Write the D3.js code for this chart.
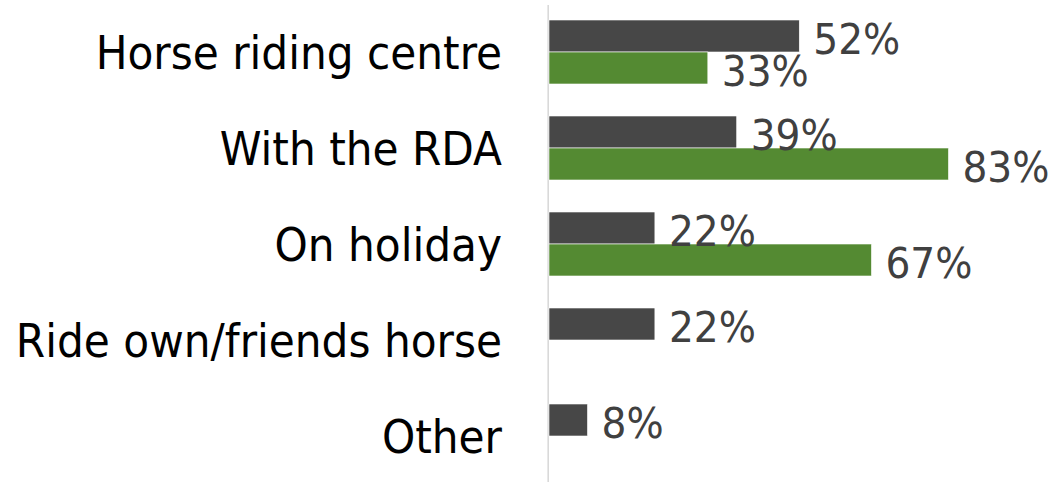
<!DOCTYPE html>
<html>
<head>
<meta charset="utf-8">
<script src="https://cdn.jsdelivr.net/npm/d3@7"></script>
<style>
  html, body { margin: 0; padding: 0; background: #fff; }
  svg { display: block; }
</style>
</head>
<body>
<svg width="1056" height="482"></svg>
<script>
// Data
const categories = ["Horse riding centre", "With the RDA", "On holiday", "Ride own/friends horse", "Other"];
const seriesNames = ["Series 1", "Series 2"];
const series1 = [52, 39, 22, 22, 8];
const series2 = [33, 83, 67, null, null];
const colors = ["#474747", "#548a32"];

const svg = d3.select("svg");
const width = +svg.attr("width");
const height = +svg.attr("height");

const fontFamily = "'DejaVu Sans Condensed', 'DejaVu Sans', sans-serif";

// Scales
const xScale = d3.scaleLinear()
                 .domain([0, 100])
                 .range([549, 549 + 481.3]);

const yScale = d3.scaleBand()
                 .domain(categories)
                 .range([4, 484])
                 .paddingInner(1 / 3)
                 .paddingOuter(1 / 6);

const ySub = d3.scaleBand()
               .domain(seriesNames)
               .range([0, yScale.bandwidth()]);

// Rows of data
const rows = categories.map((c, i) => ({
    category: c,
    values: [series1[i], series2[i]]
}));

// Vertical axis line
svg.append("line")
   .attr("x1", 548.2)
   .attr("x2", 548.2)
   .attr("y1", 5)
   .attr("y2", height)
   .attr("stroke", "#d9d9d9")
   .attr("stroke-width", 1.6);

// Groups per category
const groups = svg.selectAll(".cat")
                  .data(rows)
                  .enter()
                  .append("g")
                  .attr("class", "cat")
                  .attr("transform", d => `translate(0, ${yScale(d.category)})`);

const bars = groups.selectAll(".bar")
                   .data(d => d.values.map((v, j) => ({ value: v, series: seriesNames[j], idx: j })).filter(e => e.value !== null))
                   .enter();

bars.append("rect")
    .attr("class", "bar")
    .attr("x", xScale(0))
    .attr("y", d => ySub(d.series))
    .attr("width", d => xScale(d.value) - xScale(0))
    .attr("height", ySub.bandwidth())
    .attr("fill", d => colors[d.idx])
    .attr("stroke", "#ffffff")
    .attr("stroke-width", 0.6);

// Value labels
bars.append("text")
    .attr("x", d => xScale(d.value) + 14)
    .attr("y", d => ySub(d.series) + ySub.bandwidth() / 2 + 18)
    .style("font-family", fontFamily)
    .style("font-size", "43.5px")
    .style("fill", "#404040")
    .text(d => d.value + "%");

// Category labels
svg.selectAll(".cat-label")
   .data(categories)
   .enter()
   .append("text")
   .attr("class", "cat-label")
   .attr("x", 502)
   .attr("y", d => yScale(d) + yScale.bandwidth() / 2 + 16.5)
   .attr("text-anchor", "end")
   .style("font-family", fontFamily)
   .style("font-size", "47px")
   .style("fill", "#000000")
   .text(d => d);
</script>
</body>
</html>
